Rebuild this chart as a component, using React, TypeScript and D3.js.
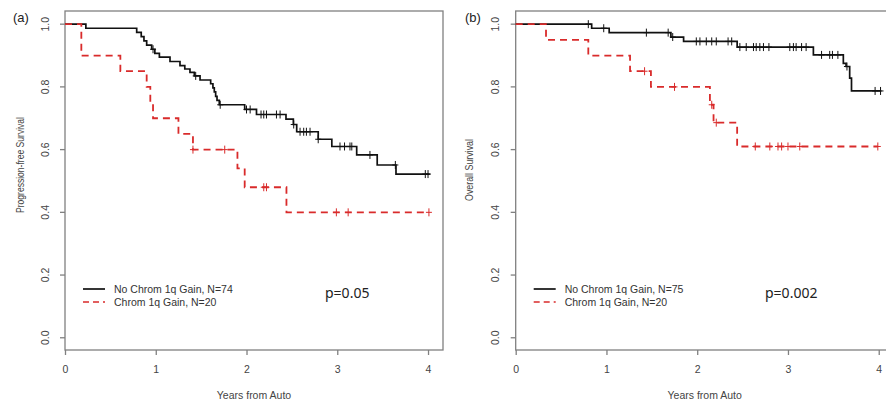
import { useEffect, useRef } from "react";
import * as d3 from "d3";

const xTicks = [0, 1, 2, 3, 4];
const yTicks = [0, 0.2, 0.4, 0.6, 0.8, 1.0];

// (a) progression-free survival, [years, survival after the drop]
const pfsNoGainSteps = [
  [0.23, 0.987], [0.79, 0.974], [0.84, 0.96], [0.87, 0.947], [0.9, 0.933],
  [0.955, 0.92], [0.99, 0.907], [1.04, 0.895], [1.157, 0.881], [1.267, 0.868],
  [1.32, 0.857], [1.377, 0.846], [1.425, 0.835], [1.488, 0.822], [1.605, 0.81],
  [1.63, 0.797], [1.645, 0.784], [1.66, 0.77], [1.675, 0.757], [1.7, 0.743],
  [1.98, 0.728], [2.11, 0.712], [2.435, 0.697], [2.516, 0.68], [2.553, 0.657],
  [2.79, 0.633], [2.94, 0.61], [3.214, 0.583], [3.44, 0.551], [3.647, 0.522],
];
const pfsNoGainCensor = [
  0.97, 1.44, 1.71, 2.0, 2.04, 2.16, 2.19, 2.22, 2.33, 2.37, 2.52, 2.59, 2.63,
  2.66, 2.7, 2.79, 3.03, 3.08, 3.14, 3.16, 3.36, 3.64, 3.97, 4.0,
];
const pfsNoGainEnd = 4.02;

const pfsGainSteps = [
  [0.18, 0.9], [0.61, 0.85], [0.9, 0.8], [0.94, 0.75], [0.97, 0.7],
  [1.25, 0.65], [1.41, 0.6], [1.9, 0.54], [1.98, 0.48], [2.44, 0.4],
];
const pfsGainCensor = [1.41, 1.76, 2.19, 2.22, 2.99, 3.12, 4.01];
const pfsGainEnd = 4.01;

// (b) overall survival
const osNoGainSteps = [
  [0.837, 0.987], [1.03, 0.973], [1.71, 0.959], [1.85, 0.945], [2.44, 0.927],
  [3.28, 0.902], [3.61, 0.875], [3.64, 0.865], [3.68, 0.828], [3.7, 0.787],
];
const osNoGainCensor = [
  0.8, 0.97, 1.44, 1.68, 1.73, 1.99, 2.03, 2.1, 2.16, 2.21, 2.34, 2.38, 2.47,
  2.54, 2.62, 2.65, 2.69, 2.73, 2.79, 3.02, 3.06, 3.09, 3.15, 3.2, 3.37, 3.46,
  3.49, 3.55, 3.65, 3.96, 4.02,
];
const osNoGainEnd = 4.03;

const osGainSteps = [
  [0.334, 0.95], [0.8, 0.9], [1.26, 0.85], [1.49, 0.8], [2.14, 0.743],
  [2.18, 0.686], [2.44, 0.61],
];
const osGainCensor = [1.42, 1.75, 2.16, 2.21, 2.64, 2.8, 2.89, 2.93, 3.0, 3.13, 3.99];
const osGainEnd = 3.99;

const RED = "#d92b2b";
const AXIS = "#808080";

function survAt(steps, t) {
  let s = 1;
  for (const [st, sv] of steps) if (st <= t + 1e-9) s = sv;
  return s;
}

function drawPanel(svg, p) {
  const x = d3.scaleLinear().domain([0, 4.165]).range([p.left, p.left + 378]);
  const y = d3.scaleLinear().domain([-0.039, 1.042]).range([350, 11]);
  const g = svg.append("g");

  // box
  g.append("rect")
    .attr("x", x(0)).attr("y", y(1.042))
    .attr("width", x(4.165) - x(0)).attr("height", y(-0.039) - y(1.042))
    .attr("fill", "none").attr("stroke", AXIS).attr("stroke-width", 1.3);

  // x axis
  g.append("g")
    .attr("transform", `translate(0,${y(-0.039)})`)
    .call(d3.axisBottom(x).tickValues(xTicks).tickSize(5).tickPadding(11).tickFormat(d3.format("d")))
    .call(a => a.select(".domain").remove())
    .call(a => a.selectAll("line").attr("stroke", AXIS).attr("stroke-width", 1.3))
    .call(a => a.selectAll("text").attr("fill", "#444").attr("font-size", 10.5)
      .attr("font-family", "Liberation Sans, Arial, sans-serif"));

  // y axis ticks and rotated labels
  g.selectAll(".yt").data(yTicks).join("line")
    .attr("x1", x(0) - 5).attr("x2", x(0))
    .attr("y1", d => y(d)).attr("y2", d => y(d))
    .attr("stroke", AXIS).attr("stroke-width", 1.3);
  g.selectAll(".yl").data(yTicks).join("text")
    .attr("transform", d => `translate(${x(0) - 20},${y(d)}) rotate(-90)`)
    .attr("text-anchor", "middle").attr("dy", "0.35em")
    .attr("font-size", 10.5).attr("fill", "#444")
    .attr("font-family", "Liberation Sans, Arial, sans-serif")
    .text(d => d3.format(".1f")(d));

  // titles
  g.append("text")
    .attr("x", (x(0) + x(4.165)) / 2).attr("y", 395).attr("dy", "0.35em")
    .attr("text-anchor", "middle").attr("font-size", 10.5).attr("fill", "#444")
    .attr("font-family", "Liberation Sans, Arial, sans-serif")
    .text("Years from Auto");
  g.append("text")
    .attr("transform", `translate(${p.yLabelX},${p.yLabelY}) rotate(-90)`)
    .attr("text-anchor", "middle").attr("dy", "0.35em")
    .attr("font-size", 10.5).attr("fill", "#444")
    .attr("textLength", p.yLabelLen).attr("lengthAdjust", "spacingAndGlyphs")
    .attr("font-family", "Liberation Sans, Arial, sans-serif")
    .text(p.yLabel);
  g.append("text")
    .attr("x", p.tagX).attr("y", 17).attr("dy", "0.35em")
    .attr("font-size", 13).attr("fill", "#222")
    .attr("font-family", "Liberation Sans, Arial, sans-serif")
    .text(p.tag);

  const line = d3.line().x(d => x(d[0])).y(d => y(d[1])).curve(d3.curveStepAfter);

  p.curves.forEach(c => {
    const last = c.steps[c.steps.length - 1][1];
    const pts = [[0, 1], ...c.steps, [c.end, last]];
    g.append("path")
      .attr("d", line(pts))
      .attr("fill", "none")
      .attr("stroke", c.color)
      .attr("stroke-width", c.dashed ? 1.8 : 1.7)
      .attr("stroke-dasharray", c.dashed ? "7,5" : null);
    const marks = g.append("g").attr("stroke", c.color).attr("stroke-width", 1);
    c.censor.forEach(t => {
      const cx = x(t), cy = y(survAt(c.steps, t));
      marks.append("line").attr("x1", cx).attr("x2", cx).attr("y1", cy - 4).attr("y2", cy + 4);
      marks.append("line").attr("x1", cx - 3).attr("x2", cx + 3).attr("y1", cy).attr("y2", cy);
    });
  });

  // legend
  const lg = g.append("g").attr("font-family", "Liberation Sans, Arial, sans-serif")
    .attr("font-size", 10.5).attr("fill", "#333");
  p.curves.forEach((c, i) => {
    const ly = 289 + i * 13;
    lg.append("line")
      .attr("x1", x(0) + 18).attr("x2", x(0) + 40).attr("y1", ly).attr("y2", ly)
      .attr("stroke", c.color).attr("stroke-width", 1.7)
      .attr("stroke-dasharray", c.dashed ? "6,4" : null);
    lg.append("text").attr("x", x(0) + 49).attr("y", ly).attr("dy", "0.35em").text(c.label);
  });

  g.append("text")
    .attr("x", p.pX).attr("y", 293).attr("dy", "0.35em")
    .attr("font-size", 14).attr("fill", "#222")
    .attr("font-family", "Noto Sans, Open Sans, sans-serif")
    .text(p.pText);
}

export default function App() {
  const ref = useRef(null);

  useEffect(() => {
    const svg = d3.select(ref.current);
    svg.selectAll("*").remove();

    drawPanel(svg, {
      left: 65, tag: "(a)", tagX: 13,
      yLabel: "Progression-free Survival", yLabelX: 20, yLabelY: 165, yLabelLen: 96,
      pText: "p=0.05", pX: 325,
      curves: [
        { steps: pfsNoGainSteps, censor: pfsNoGainCensor, end: pfsNoGainEnd, color: "#111", dashed: false, label: "No Chrom 1q Gain, N=74" },
        { steps: pfsGainSteps, censor: pfsGainCensor, end: pfsGainEnd, color: RED, dashed: true, label: "Chrom 1q Gain, N=20" },
      ],
    });
    drawPanel(svg, {
      left: 515.7, tag: "(b)", tagX: 465,
      yLabel: "Overall Survival", yLabelX: 469, yLabelY: 170, yLabelLen: 62,
      pText: "p=0.002", pX: 765,
      curves: [
        { steps: osNoGainSteps, censor: osNoGainCensor, end: osNoGainEnd, color: "#111", dashed: false, label: "No Chrom 1q Gain, N=75" },
        { steps: osGainSteps, censor: osGainCensor, end: osGainEnd, color: RED, dashed: true, label: "Chrom 1q Gain, N=20" },
      ],
    });
  }, []);

  return (
    <svg
      ref={ref}
      width={886}
      height={410}
      style={{ position: "absolute", left: 0, top: 0, background: "#fff" }}
    />
  );
}
